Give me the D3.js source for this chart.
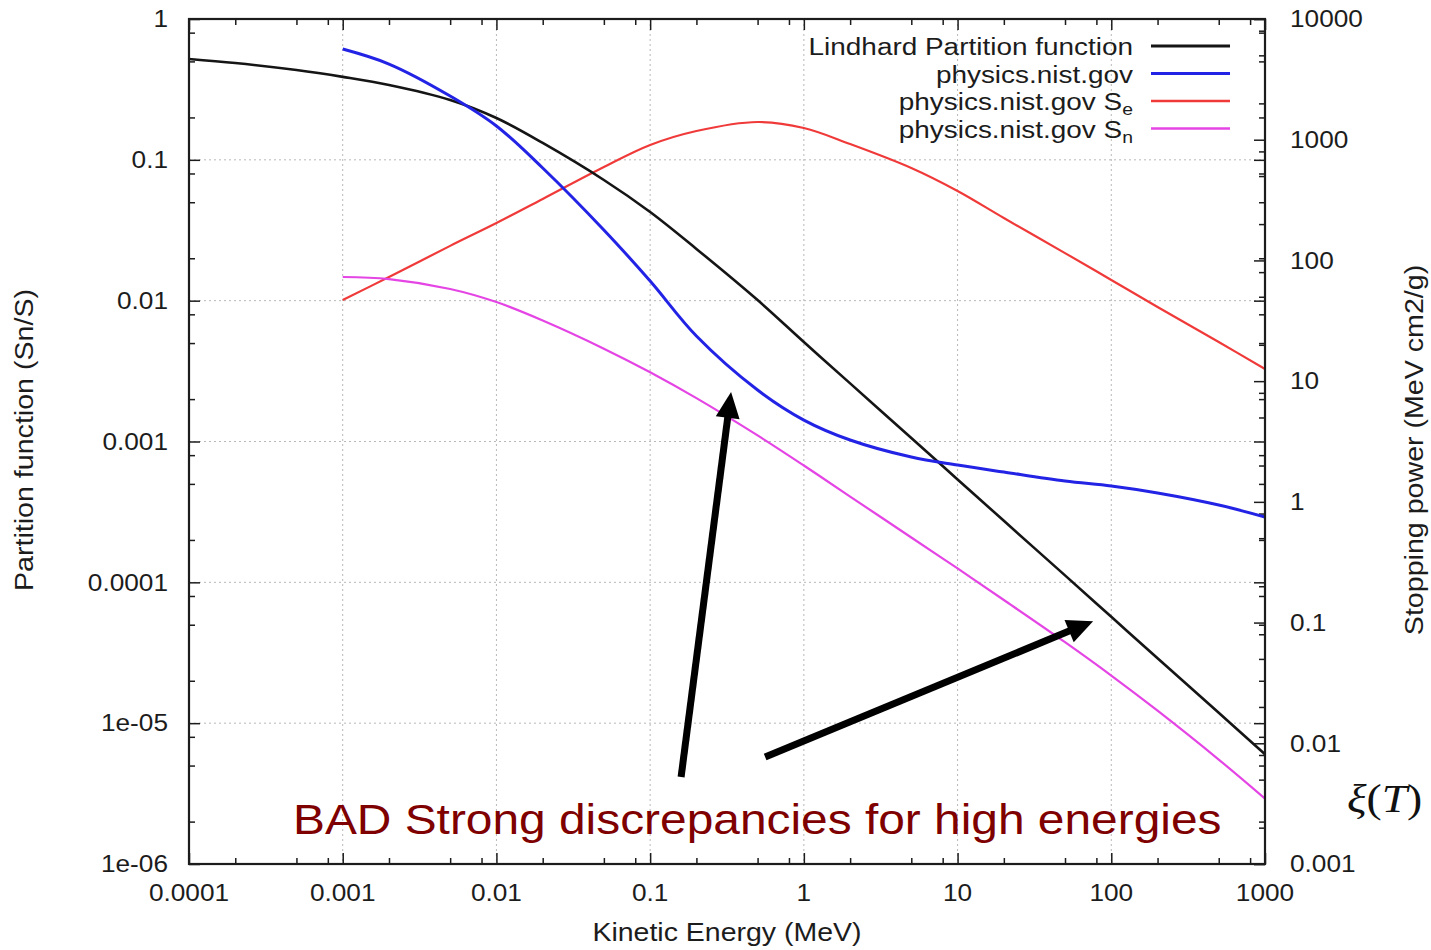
<!DOCTYPE html>
<html>
<head>
<meta charset="utf-8">
<script src="https://cdn.jsdelivr.net/npm/d3@7"></script>
<style>
  html, body { margin: 0; padding: 0; background: #fff; }
  svg { display: block; }
</style>
</head>
<body>
<svg id="chart" width="1431" height="950"></svg>
<script>
// Kinetic energy grid (MeV) for the Lindhard partition function
const energy = [1e-4, 2e-4, 5e-4, 1e-3, 2e-3, 5e-3, 0.01, 0.02, 0.05, 0.1, 0.2, 0.5,
                1, 2, 5, 10, 20, 50, 100, 200, 500, 1000];
const lindhard = [0.520, 0.487, 0.434, 0.388, 0.340, 0.266, 0.198, 0.1317, 0.0719, 0.0426,
                  0.0233, 0.0101, 0.005087, 0.002587, 0.001058, 5.38e-4, 2.734e-4, 1.12e-4,
                  5.69e-5, 2.89e-5, 1.184e-5, 6.01e-6];

// NIST tabulated energies (MeV)
const nistEnergy = [1e-3, 2e-3, 5e-3, 0.01, 0.02, 0.05, 0.1, 0.2, 0.5, 1, 2, 5, 10,
                    20, 50, 100, 200, 500, 1000];
// Sn/S ratio from NIST (left axis)
const nistRatio = [0.612, 0.479, 0.284, 0.174, 0.0875, 0.03175, 0.01379, 0.00561, 0.00232,
                   0.00142, 0.001025, 7.76e-4, 6.81e-4, 6.07e-4, 5.24e-4, 4.83e-4, 4.31e-4,
                   3.54e-4, 2.91e-4];
// Electronic stopping power Se (right axis, MeV cm2/g)
const nistSe = [47.0, 72.9, 132, 204, 323, 594, 904, 1180, 1402, 1250, 921, 583, 376,
                224.5, 115, 68.9, 41.1, 21.1, 12.6];
// Nuclear stopping power Sn (right axis, MeV cm2/g)
const nistSn = [72.9, 70.1, 58.0, 45.2, 31.8, 18.59, 11.85, 7.23, 3.55, 2.00, 1.106, 0.507,
                0.2807, 0.1539, 0.0688, 0.0364, 0.01862, 0.00733, 0.00348];

// Tick values and their labels
const xTicks = [1e-4, 1e-3, 1e-2, 0.1, 1, 10, 100, 1000];
const xTickLabels = ["0.0001", "0.001", "0.01", "0.1", "1", "10", "100", "1000"];
const yLeftTicks = [1, 0.1, 0.01, 0.001, 1e-4, 1e-5, 1e-6];
const yLeftTickLabels = ["1", "0.1", "0.01", "0.001", "0.0001", "1e-05", "1e-06"];
const yRightTicks = [1e4, 1e3, 100, 10, 1, 0.1, 0.01, 0.001];
const yRightTickLabels = ["10000", "1000", "100", "10", "1", "0.1", "0.01", "0.001"];

const legendLabels = ["Lindhard Partition function", "physics.nist.gov",
                      "physics.nist.gov S", "physics.nist.gov S"];
const legendSubs = ["", "", "e", "n"];

// Annotation arrows: [energy, ratio] of tail and tip on the left axis
const arrowTails = [[0.159, 4.15e-6], [0.56, 5.75e-6]];
const arrowTips = [[0.336, 2.25e-3], [76.2, 5.3e-5]];
const noteText = "BAD Strong discrepancies for high energies";

// ---------------------------------------------------------------------------
const svg = d3.select("#chart");
const SX = 1.14;                       // horizontal stretch of the lettering
const FONT = "'Liberation Sans', Arial, Helvetica, sans-serif";
const INK = "#1c1c1c";

const L = 189, R = 1265, T = 19, B = 864;
const x = d3.scaleLog().domain([1e-4, 1000]).range([L, R]);
const yL = d3.scaleLog().domain([1e-6, 1]).range([B, T]);
const yR = d3.scaleLog().domain([1e-3, 1e4]).range([B, T]);

// minor ticks at 2, 5, 8 of each decade
function minorTicks(lo, hi) {
  const out = [];
  for (let e = Math.round(Math.log10(lo)); e < Math.round(Math.log10(hi)); e++) {
    [2, 5, 8].forEach(m => out.push(m * Math.pow(10, e)));
  }
  return out;
}

function label(g, px, py, str, opts = {}) {
  const rot = opts.rotate ? ` rotate(-90) scale(${opts.lx || 1},1)` : ` scale(${SX},1)`;
  return g.append("text")
    .attr("transform", `translate(${px},${py})` + rot)
    .attr("text-anchor", opts.anchor || "middle")
    .attr("dy", opts.dy || 0)
    .attr("font-family", opts.family || FONT)
    .attr("font-size", opts.size || 23)
    .attr("fill", opts.fill || INK)
    .text(str);
}

// grid
const grid = svg.append("g").attr("stroke", "#b8b8b8").attr("stroke-width", 1)
  .attr("stroke-dasharray", "2,3");
grid.selectAll("line.v").data(xTicks.slice(1, -1)).join("line")
  .attr("x1", d => x(d)).attr("x2", d => x(d)).attr("y1", T).attr("y2", B);
grid.selectAll("line.h").data(yLeftTicks.slice(1, -1)).join("line")
  .attr("x1", L).attr("x2", R).attr("y1", d => yL(d)).attr("y2", d => yL(d));

// ticks (all pointing inwards)
function tickAxis(axis, tr) {
  const g = svg.append("g").attr("transform", tr).call(axis);
  g.select(".domain").remove();
  g.selectAll("line").attr("stroke", INK).attr("stroke-width", 1.5);
  return g;
}
const MAJ = 11, MIN = 6;
tickAxis(d3.axisBottom(x).tickValues(xTicks).tickSize(-MAJ).tickFormat(""), `translate(0,${B})`);
tickAxis(d3.axisBottom(x).tickValues(minorTicks(1e-4, 1000)).tickSize(-MIN).tickFormat(""), `translate(0,${B})`);
tickAxis(d3.axisTop(x).tickValues(xTicks).tickSize(-MAJ).tickFormat(""), `translate(0,${T})`);
tickAxis(d3.axisTop(x).tickValues(minorTicks(1e-4, 1000)).tickSize(-MIN).tickFormat(""), `translate(0,${T})`);
tickAxis(d3.axisLeft(yL).tickValues(yLeftTicks).tickSize(-MAJ).tickFormat(""), `translate(${L},0)`);
tickAxis(d3.axisLeft(yL).tickValues(minorTicks(1e-6, 1)).tickSize(-MIN).tickFormat(""), `translate(${L},0)`);
tickAxis(d3.axisRight(yL).tickValues(yLeftTicks).tickSize(-MAJ).tickFormat(""), `translate(${R},0)`);
tickAxis(d3.axisRight(yL).tickValues(minorTicks(1e-6, 1)).tickSize(-MIN).tickFormat(""), `translate(${R},0)`);
tickAxis(d3.axisRight(yR).tickValues(yRightTicks).tickSize(-MAJ).tickFormat(""), `translate(${R},0)`);
tickAxis(d3.axisRight(yR).tickValues(minorTicks(1e-3, 1e4)).tickSize(-MIN).tickFormat(""), `translate(${R},0)`);

// curves
const pts = (xs, ys, ys2) => xs.map((e, i) => [x(e), ys2(ys[i])]);
const line = d3.line().curve(d3.curveCatmullRom.alpha(0.5));
const curves = svg.append("g").attr("fill", "none").attr("stroke-linejoin", "round");
curves.append("path").attr("d", line(pts(nistEnergy, nistSe, yR)))
  .attr("stroke", "#f03a3a").attr("stroke-width", 2.2);
curves.append("path").attr("d", line(pts(nistEnergy, nistSn, yR)))
  .attr("stroke", "#e445e4").attr("stroke-width", 2.2);
curves.append("path").attr("d", line(pts(energy, lindhard, yL)))
  .attr("stroke", "#151515").attr("stroke-width", 2.6);
curves.append("path").attr("d", line(pts(nistEnergy, nistRatio, yL)))
  .attr("stroke", "#2323e6").attr("stroke-width", 3);

// frame
svg.append("rect").attr("x", L).attr("y", T).attr("width", R - L).attr("height", B - T)
  .attr("fill", "none").attr("stroke", INK).attr("stroke-width", 2.2);

// tick labels
const lab = svg.append("g");
xTicks.forEach((v, i) => label(lab, x(v), 901, xTickLabels[i]));
yLeftTicks.forEach((v, i) => label(lab, 168, yL(v), yLeftTickLabels[i], { anchor: "end", dy: "0.36em" }));
yRightTicks.forEach((v, i) => label(lab, 1290, yR(v), yRightTickLabels[i], { anchor: "start", dy: "0.36em" }));

// axis titles
label(lab, (L + R) / 2, 941, "Kinetic Energy (MeV)", { size: 25 });
label(lab, 33, 440, "Partition function (Sn/S)", { rotate: true, size: 26, lx: 1.1 });
label(lab, 1423, 450, "Stopping power (MeV cm2/g)", { rotate: true, size: 26, lx: 1.1 });

// legend
const legColors = ["#151515", "#2323e6", "#f03a3a", "#e445e4"];
const legWidths = [2.8, 3.2, 2.4, 2.4];
const leg = svg.append("g");
legendLabels.forEach((s, i) => {
  const by = 55 + i * 27.5;
  const t = label(leg, 1133, by, s, { anchor: "end", size: 24.5 });
  if (legendSubs[i]) {
    t.text(null);
    t.append("tspan").text(s);
    t.append("tspan").attr("font-size", 17).attr("dy", 5).text(legendSubs[i]);
  }
  leg.append("line").attr("x1", 1151).attr("x2", 1230).attr("y1", by - 9).attr("y2", by - 9)
    .attr("stroke", legColors[i]).attr("stroke-width", legWidths[i]);
});

// annotation arrows
const ann = svg.append("g");
arrowTails.forEach((tail, i) => {
  const tip = arrowTips[i];
  const x0 = x(tail[0]), y0 = yL(tail[1]), x1 = x(tip[0]), y1 = yL(tip[1]);
  const dx = x1 - x0, dy = y1 - y0, len = Math.hypot(dx, dy);
  const ux = dx / len, uy = dy / len, nx = -uy, ny = ux;
  const headL = 26, headW = 12;
  const bx = x1 - ux * headL, by = y1 - uy * headL;
  ann.append("line").attr("x1", x0).attr("y1", y0).attr("x2", bx + ux * 2).attr("y2", by + uy * 2)
    .attr("stroke", "#000").attr("stroke-width", 7);
  ann.append("path")
    .attr("d", `M${x1},${y1} L${bx + nx * headW},${by + ny * headW} L${bx - nx * headW},${by - ny * headW} Z`)
    .attr("fill", "#000");
});

// annotation text
label(ann, 293, 834, noteText, { anchor: "start", size: 42, fill: "#7f0000" });

// xi(T) label
const xi = svg.append("text")
  .attr("transform", `translate(1347,812) scale(${SX},1)`)
  .attr("font-family", "'Liberation Serif', 'DejaVu Serif', serif")
  .attr("font-size", 40).attr("fill", "#111");
xi.append("tspan").attr("font-style", "italic").text("ξ");
xi.append("tspan").text("(");
xi.append("tspan").attr("font-style", "italic").text("T");
xi.append("tspan").text(")");
</script>
</body>
</html>
